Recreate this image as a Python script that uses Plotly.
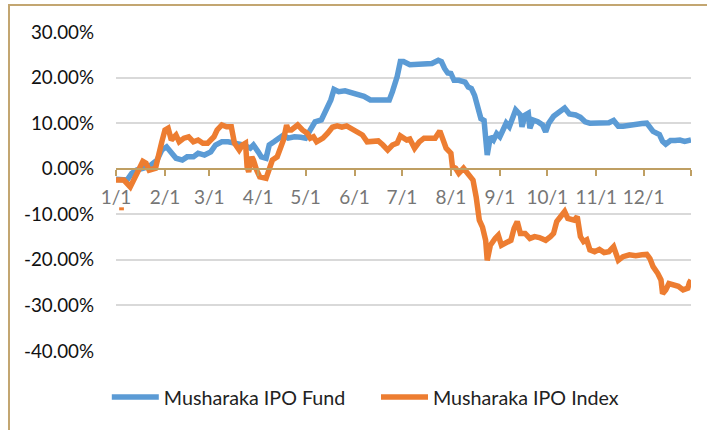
import plotly.graph_objects as go

# ---- data (percent) ----
fund_dates = ["2015-01-01","2015-01-05","2015-01-08","2015-01-11","2015-01-14","2015-01-18","2015-01-22",
    "2015-01-27","2015-01-30","2015-02-02","2015-02-05","2015-02-08","2015-02-12","2015-02-15","2015-02-19",
    "2015-02-22","2015-02-26","2015-03-02","2015-03-05","2015-03-09","2015-03-13","2015-03-17","2015-03-23",
    "2015-03-27","2015-03-29","2015-04-01","2015-04-03","2015-04-06","2015-04-08","2015-04-11","2015-04-14",
    "2015-04-17","2015-04-20","2015-04-24","2015-04-28","2015-05-01","2015-05-04","2015-05-07","2015-05-11",
    "2015-05-14","2015-05-17","2015-05-19","2015-05-22","2015-05-26","2015-05-30","2015-06-03","2015-06-07",
    "2015-06-11","2015-06-16","2015-06-20","2015-06-23","2015-06-25","2015-06-28","2015-06-30","2015-07-02",
    "2015-07-06","2015-07-09","2015-07-13","2015-07-17","2015-07-20","2015-07-24","2015-07-26","2015-07-28",
    "2015-07-30","2015-08-01","2015-08-03","2015-08-06","2015-08-10","2015-08-12","2015-08-14","2015-08-16",
    "2015-08-18","2015-08-20","2015-08-22","2015-08-23","2015-08-24","2015-08-26","2015-08-28","2015-08-30",
    "2015-09-01","2015-09-03","2015-09-05","2015-09-07","2015-09-09","2015-09-11","2015-09-14","2015-09-15",
    "2015-09-17","2015-09-19","2015-09-20","2015-09-22","2015-09-25","2015-09-28","2015-09-30","2015-10-02",
    "2015-10-05","2015-10-08","2015-10-12","2015-10-15","2015-10-19","2015-10-22","2015-10-25","2015-10-28",
    "2015-11-01","2015-11-05","2015-11-09","2015-11-12","2015-11-15","2015-11-18","2015-11-22","2015-11-26",
    "2015-11-30","2015-12-03","2015-12-05","2015-12-07","2015-12-11","2015-12-13","2015-12-15","2015-12-18",
    "2015-12-21","2015-12-24","2015-12-27","2015-12-29","2015-12-31"]
fund_values = [-2.3,-2.3,-2.5,-1.0,-0.3,0.1,0.5,
    1.9,4.1,4.8,3.7,2.3,1.9,2.6,2.6,
    3.4,3.0,3.7,5.2,5.9,5.9,5.6,5.2,
    4.5,5.2,3.7,2.6,2.3,5.2,5.9,6.7,
    7.4,6.7,7.0,6.9,6.7,8.5,10.3,10.7,
    12.9,15.1,17.4,16.9,17.1,16.7,16.5,15.9,
    15.1,15.1,15.4,15.1,16.9,20.2,23.5,23.5,
    22.8,22.8,23.0,23.0,23.1,23.8,23.5,22.0,
    21.0,20.9,19.4,19.4,19.0,17.9,17.6,16.1,
    13.6,11.0,10.6,6.3,3.0,7.0,6.3,7.7,
    7.0,8.5,10.0,9.2,11.4,12.9,11.8,9.2,
    11.8,12.2,8.9,10.7,10.3,9.6,8.1,10.0,
    11.5,12.3,13.3,12.0,11.8,11.3,10.3,10.0,
    10.0,10.3,10.1,10.6,9.3,9.3,9.6,9.6,
    9.9,10.0,9.3,8.2,7.5,6.0,5.4,6.2,
    6.2,6.3,6.0,6.0,6.3]

index_dates = ["2015-01-01","2015-01-06","2015-01-10","2015-01-13","2015-01-16","2015-01-18","2015-01-20",
    "2015-01-22","2015-01-26","2015-01-28","2015-01-30","2015-02-01","2015-02-03","2015-02-05","2015-02-08",
    "2015-02-10","2015-02-13","2015-02-16","2015-02-19","2015-02-22","2015-02-25","2015-02-28","2015-03-04",
    "2015-03-06","2015-03-09","2015-03-12","2015-03-15","2015-03-17","2015-03-20","2015-03-22","2015-03-24",
    "2015-03-25","2015-03-26","2015-03-28","2015-03-29","2015-03-31","2015-04-02","2015-04-06","2015-04-08",
    "2015-04-10","2015-04-13","2015-04-15","2015-04-17","2015-04-19","2015-04-20","2015-04-22","2015-04-26",
    "2015-04-29","2015-05-02","2015-05-04","2015-05-06","2015-05-08","2015-05-12","2015-05-15","2015-05-18",
    "2015-05-21","2015-05-24","2015-05-27","2015-05-31","2015-06-03","2015-06-06","2015-06-09","2015-06-12",
    "2015-06-16","2015-06-19","2015-06-22","2015-06-25","2015-06-28","2015-06-30","2015-07-04","2015-07-06",
    "2015-07-09","2015-07-12","2015-07-15","2015-07-18","2015-07-22","2015-07-25","2015-07-27","2015-07-29",
    "2015-08-01","2015-08-02","2015-08-04","2015-08-06","2015-08-09","2015-08-11","2015-08-13","2015-08-15",
    "2015-08-17","2015-08-19","2015-08-21","2015-08-23","2015-08-24","2015-08-26","2015-08-29","2015-08-31",
    "2015-09-02","2015-09-05","2015-09-08","2015-09-10","2015-09-12","2015-09-14","2015-09-17","2015-09-20",
    "2015-09-23","2015-09-26","2015-09-30","2015-10-03","2015-10-05","2015-10-07","2015-10-10","2015-10-12",
    "2015-10-14","2015-10-18","2015-10-20","2015-10-22","2015-10-24","2015-10-26","2015-10-28","2015-10-31",
    "2015-11-03","2015-11-06","2015-11-09","2015-11-12","2015-11-15","2015-11-18","2015-11-22","2015-11-26",
    "2015-11-30","2015-12-03","2015-12-05","2015-12-07","2015-12-10","2015-12-12","2015-12-13","2015-12-15",
    "2015-12-17","2015-12-20","2015-12-23","2015-12-26","2015-12-29","2015-12-30","2015-12-31"]
index_values = [-2.5,-2.5,-4.0,-1.8,-0.3,1.6,1.2,
    -0.3,0.1,3.4,5.9,8.5,8.9,6.3,7.4,
    5.9,6.7,7.0,5.9,6.3,5.6,5.6,7.0,
    8.5,9.6,9.2,9.2,5.6,4.1,5.2,5.6,
    0.4,-0.7,2.6,1.9,-0.3,-1.8,-2.1,0.4,
    1.9,2.6,4.1,6.3,9.6,8.5,8.5,9.6,
    8.5,7.8,6.7,7.0,5.9,6.7,7.8,9.1,
    9.4,9.1,9.4,8.5,7.8,7.4,5.9,5.9,
    6.1,5.2,4.1,5.2,5.6,7.2,6.3,6.5,
    4.5,5.9,6.7,6.7,6.7,8.3,6.3,4.5,
    3.4,0.4,0.1,-1.0,0.1,-0.7,-1.8,-2.5,
    -6.2,-11.3,-12.8,-15.7,-20.1,-16.8,-15.3,-14.6,
    -16.8,-16.4,-15.7,-13.1,-11.6,-14.2,-14.2,-15.3,
    -14.9,-15.1,-15.7,-14.9,-14.2,-11.6,-10.2,-9.4,
    -10.9,-11.3,-10.5,-14.9,-16.0,-15.6,-17.8,-18.2,
    -17.7,-18.4,-18.2,-17.1,-20.1,-19.3,-18.9,-19.1,
    -18.9,-18.8,-19.7,-21.5,-23.0,-24.4,-27.4,-26.6,
    -25.2,-25.6,-25.8,-26.6,-26.2,-25.0,-24.4]

# isolated early dip in the index series
index_dip_dates = ["2015-01-03", "2015-01-06"]
index_dip_values = [-8.8, -8.8]

month_ticks = ["2015-01-01","2015-02-01","2015-03-01","2015-04-01","2015-05-01","2015-06-01",
               "2015-07-01","2015-08-01","2015-09-01","2015-10-01","2015-11-01","2015-12-01","2015-12-31"]
month_labels = ["1/1","2/1","3/1","4/1","5/1","6/1","7/1","8/1","9/1","10/1","11/1","12/1",""]
y_ticks = [-40, -30, -20, -10, 0, 10, 20, 30]
y_labels = ["-40.00%", "-30.00%", "-20.00%", "-10.00%", "0.00%", "10.00%", "20.00%", "30.00%"]

BLUE = "#5B9BD5"
ORANGE = "#ED7D31"
TAN = "#BF9F63"
FONT = "Lato"

fig = go.Figure()
fig.add_trace(go.Scatter(x=fund_dates, y=fund_values, mode="lines", name="Musharaka IPO Fund",
                         line=dict(color=BLUE, width=5.5), legend="legend"))
fig.add_trace(go.Scatter(x=index_dates, y=index_values, mode="lines", name="Musharaka IPO Index",
                         line=dict(color=ORANGE, width=5.5), legend="legend2"))
fig.add_trace(go.Scatter(x=index_dip_dates, y=index_dip_values, mode="lines", showlegend=False,
                         line=dict(color=ORANGE, width=3)))

ymin, ymax = -40, 30
zero_pos = (0 - ymin) / (ymax - ymin)

legend_common = dict(orientation="h", xanchor="left", y=-0.145, yanchor="middle",
                     font=dict(family=FONT, size=19.7, color="#222222"),
                     bgcolor="rgba(0,0,0,0)", itemwidth=47)

fig.update_layout(
    width=707, height=430,
    margin=dict(l=116, r=16, t=32, b=79),
    paper_bgcolor="white", plot_bgcolor="white",
    font=dict(family=FONT, size=18, color="#222222"),
    showlegend=True,
    legend=dict(x=-0.016, **legend_common),
    legend2=dict(x=(383 - 7 - 116) / 575, **legend_common),
    xaxis=dict(type="date", range=["2015-01-01", "2015-12-31"], anchor="free", position=zero_pos,
               tickmode="array", tickvals=month_ticks, ticktext=month_labels,
               showline=True, linecolor=TAN, linewidth=2,
               ticks="outside", ticklen=6, tickwidth=2, tickcolor=TAN,
               showgrid=False, zeroline=False,
               tickfont=dict(family=FONT, size=19, color="#767676"), ticklabelstandoff=5),
    yaxis=dict(range=[ymin, ymax], tickmode="array", tickvals=y_ticks, ticktext=y_labels,
               showgrid=True, gridcolor="#D9D9D9", gridwidth=1.5, zeroline=False,
               showline=False, ticks="", ticklabelstandoff=21,
               tickfont=dict(family=FONT, size=18.8, color="#111111")),
    shapes=[dict(type="rect", xref="paper", yref="paper",
                 x0=(9 - 116) / 575, x1=1.2, y0=-0.5, y1=1 + (32 - 5) / 319,
                 line=dict(color="#C3A671", width=2), fillcolor="rgba(0,0,0,0)", layer="below")],
)

fig.write_html("out.html", config={"displayModeBar": False},
               post_script="document.body.style.margin='0px';")
